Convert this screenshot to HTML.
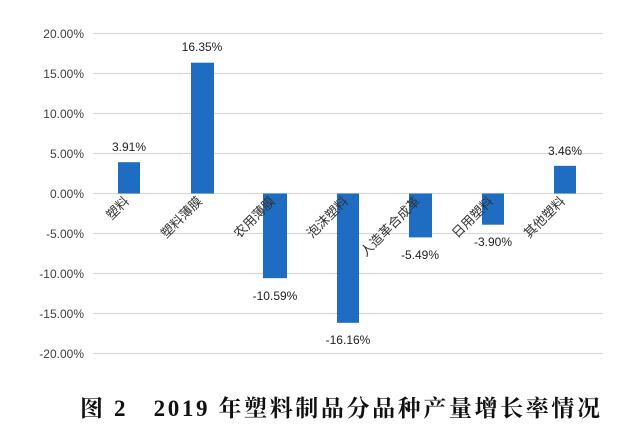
<!DOCTYPE html>
<html><head><meta charset="utf-8"><style>body{margin:0;background:#fff}</style></head>
<body>
<svg width="641" height="430" xmlns="http://www.w3.org/2000/svg" style="display:block">
<g stroke="#d9d9d9" stroke-width="1.3">
<line x1="93" x2="603" y1="33.5" y2="33.5"/><line x1="93" x2="603" y1="73.5" y2="73.5"/>
<line x1="93" x2="603" y1="113.5" y2="113.5"/><line x1="93" x2="603" y1="153.5" y2="153.5"/>
<line x1="93" x2="603" y1="193.5" y2="193.5"/><line x1="93" x2="603" y1="233.5" y2="233.5"/>
<line x1="93" x2="603" y1="273.5" y2="273.5"/><line x1="93" x2="603" y1="313.5" y2="313.5"/>
<line x1="93" x2="603" y1="353.5" y2="353.5"/>
</g>
<g font-family="Liberation Sans, sans-serif" font-size="12" fill="#404040" text-anchor="end">
<text x="84" y="38">20.00%</text><text x="84" y="78">15.00%</text><text x="84" y="118">10.00%</text>
<text x="84" y="158">5.00%</text><text x="84" y="198">0.00%</text><text x="84" y="238">-5.00%</text>
<text x="84" y="278">-10.00%</text><text x="84" y="318">-15.00%</text><text x="84" y="358">-20.00%</text>
</g>
<g fill="#1f6dc2">
<rect x="118" y="162.2" width="22" height="31.3"/>
<rect x="191" y="62.7" width="23" height="130.8"/>
<rect x="263" y="193.5" width="24" height="84.7"/>
<rect x="337" y="193.5" width="22" height="129.3"/>
<rect x="409" y="193.5" width="23" height="43.9"/>
<rect x="482" y="193.5" width="22" height="31.2"/>
<rect x="554" y="165.8" width="22" height="27.7"/>
</g>
<g font-family="Liberation Sans, sans-serif" font-size="12" fill="#222" text-anchor="middle">
<text x="129" y="151">3.91%</text><text x="202" y="51">16.35%</text>
<text x="275" y="300">-10.59%</text><text x="348" y="344">-16.16%</text>
<text x="420" y="259">-5.49%</text><text x="493" y="246">-3.90%</text>
<text x="565" y="155">3.46%</text>
</g>
<g font-family="Liberation Sans, 'Noto Sans CJK SC', sans-serif" font-size="13" fill="#333" text-anchor="end">
<text transform="translate(130,202) rotate(-45)">塑料</text>
<text transform="translate(203,202) rotate(-45)">塑料薄膜</text>
<text transform="translate(276,202) rotate(-45)">农用薄膜</text>
<text transform="translate(349,202) rotate(-45)">泡沫塑料</text>
<text transform="translate(421,202) rotate(-45)">人造革合成革</text>
<text transform="translate(494,202) rotate(-45)">日用塑料</text>
<text transform="translate(566,202) rotate(-45)">其他塑料</text>
</g>
<text x="80" y="416" textLength="520" lengthAdjust="spacing" font-family="Liberation Serif, 'Noto Serif CJK SC', serif" font-size="23" font-weight="bold" fill="#111">图 2　2019 年塑料制品分品种产量增长率情况</text>
</svg>
</body></html>
